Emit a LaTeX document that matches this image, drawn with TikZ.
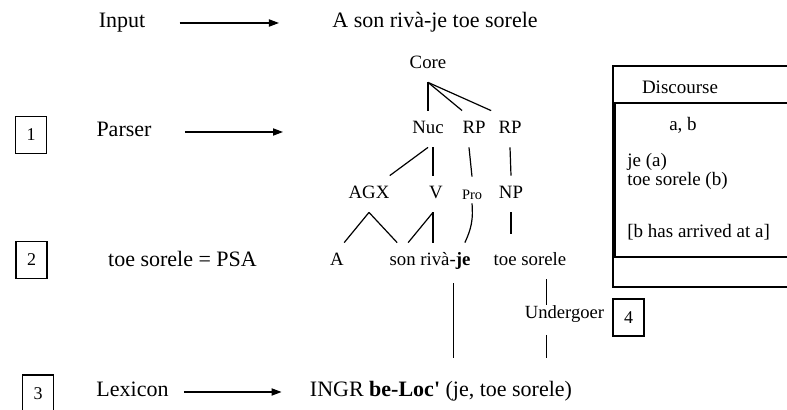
\documentclass[tikz,border=0pt]{standalone}
\usepackage{fontspec}
\setmainfont{Liberation Serif}
\usetikzlibrary{arrows.meta}

\begin{document}
\begin{tikzpicture}[x=0.5pt,y=-0.5pt,
    txt/.style={inner sep=0pt,font=\fontsize{11}{13}\selectfont,text height=7.5pt,text depth=2.5pt},
    tree/.style={inner sep=0pt,minimum height=18pt,font=\fontsize{9.4}{11}\selectfont,text height=6.5pt,text depth=2pt},
    numbox/.style={draw,line width=0.6pt,inner sep=0pt,minimum width=15.5pt,minimum height=18.5pt,font=\fontsize{9}{11}\selectfont},
    disc/.style={inner sep=0pt,font=\fontsize{9.5}{9.5}\selectfont},
    arr/.style={-{Triangle[length=5pt,width=3.6pt]},line width=0.6pt},
    tl/.style={line width=0.6pt}]
    \useasboundingbox (0,0) rectangle (787,410);
    \clip (0,0) rectangle (787,410);
    % left column
    \node[txt] (input) at (122,23) {Input};
    \node[txt] (sentence) at (435,23) {A son rivà-je toe sorele};
    \draw[arr,shorten <=17pt,shorten >=26.5pt] (input.east) -- (sentence.west);
    \node[numbox] (one) at (31,135) {1};
    \node[txt] (parser) at (124,132) {Parser};
    \coordinate (parsertip) at (283,132);
    \draw[arr,shorten <=16.5pt] (parser.east) -- (parsertip);
    \node[numbox] (two) at (31.5,260) {2};
    \node[txt] (psa) at (182.5,262) {toe sorele = PSA};
    \node[numbox] (three) at (38,393.5) {3};
    \node[txt] (lexicon) at (132.5,392) {Lexicon};
    \node[txt] (ingr) at (441,392) {INGR \textbf{be-Loc\textquotesingle} (je, toe sorele)};
    \draw[arr,shorten <=7.5pt,shorten >=14pt] (lexicon.east) -- (ingr.west);
    % tree
    \node[tree] (core) at (428,64) {Core};
    \node[tree] (nuc) at (428,129) {Nuc};
    \node[tree] (rpa) at (474,129) {RP};
    \node[tree] (rpb) at (510,129) {RP};
    \node[tree] (agx) at (369,194) {AGX};
    \node[tree] (v) at (436,194) {V};
    \node[tree,font=\fontsize{7.2}{9}\selectfont] (pro) at (472,195) {Pro};
    \node[tree] (np) at (511,194) {NP};
    \node[tree] (wa) at (337,261) {A};
    \node[tree] (wson) at (430,261) {son rivà-\textbf{je}};
    \node[tree] (wtoe) at (530,261) {toe sorele};
    \draw[tl] (core.south) -- (nuc.north);
    \draw[tl] (core.south) -- (rpa.north west);
    \draw[tl] (core.south) -- ([xshift=-3.5pt]rpb.north west);
    \draw[tl] (nuc.south) -- (agx.north east);
    \draw[tl] ([xshift=2.5pt]nuc.south) -- ([xshift=-1.5pt]v.north);
    \draw[tl] ([xshift=-2.5pt]rpa.south) -- (pro.north);
    \draw[tl] (rpb.south) -- (np.north);
    \draw[tl] (agx.south) -- (wa.north east);
    \draw[tl] (agx.south) -- ([xshift=4pt]wson.north west);
    \draw[tl] ([xshift=-1.5pt]v.south) -- ([xshift=9.5pt]wson.north west);
    \draw[tl] ([xshift=-1.5pt]v.south) -- ([xshift=-1.5pt]v.south |- wson.north);
    \draw[tl] ([yshift=5pt]pro.south) to[bend left=15] ([xshift=-3pt]wson.north east);
    \draw[tl,shorten >=4.5pt] (np.south) -- (np.south |- wtoe.north);
    % links down to the lexicon
    \node[inner sep=0pt,font=\fontsize{9.3}{11}\selectfont] (undergoer) at (564.5,314) {Undergoer};
    \node[numbox] (four) at (628.5,317.5) {4};
    \draw[tl,shorten <=2pt,shorten >=12pt] ([xshift=-8.5pt]wson.south east) -- ([xshift=-8.5pt]wson.south east |- ingr.north);
    \draw[tl] ([xshift=-9pt]undergoer.north |- wtoe.south) -- ([xshift=-9pt]undergoer.north);
    \draw[tl,shorten <=6pt,shorten >=12pt] ([xshift=-9pt]undergoer.south) -- ([xshift=-9pt]undergoer.south |- ingr.north);
    % discourse box
    \draw[tl] (613,66) rectangle (800,287);
    \draw[tl] (615,103) rectangle (800,257);
    \node[disc] (dhead) at (680,87) {Discourse};
    \node[disc] (dref) at (683,125) {a, b};
    \node[disc,align=left,anchor=west] (dcond) at (627,171) {je (a)\\toe sorele (b)};
    \node[disc,anchor=west] (dstate) at (627,232) {[b has arrived at a]};
\end{tikzpicture}
\end{document}
